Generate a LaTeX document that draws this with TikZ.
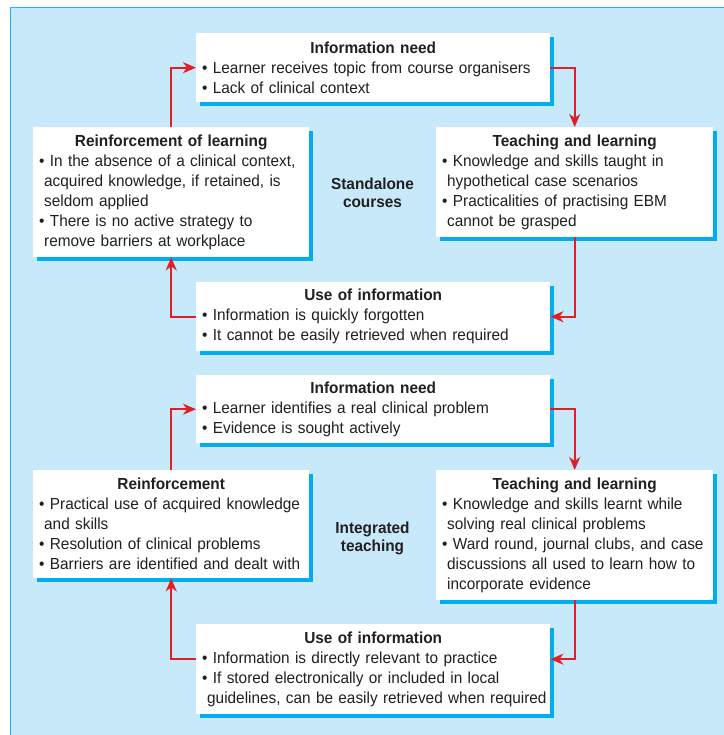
\documentclass[tikz,border=0pt]{standalone}
\usepackage{fontspec}
\setmainfont{Liberation Sans}[FakeStretch=0.96]
\usetikzlibrary{arrows.meta,shadows}
\definecolor{panelblue}{HTML}{C7E9F9}
\definecolor{panelline}{HTML}{1FB5EC}
\definecolor{shadowcyan}{HTML}{00AEEF}
\definecolor{arrowred}{HTML}{E31E26}
\definecolor{ink}{HTML}{231F20}
\newcommand\boxtitle[1]{\makebox[\hsize][c]{\bfseries #1}}
\newcommand\contline{\hspace*{5pt}}
\begin{document}
\begin{tikzpicture}[x=1pt,y=-1pt,
  infobox/.style={fill=white, anchor=north west, align=left, inner xsep=6pt, inner ysep=0pt,
    font=\fontsize{16}{20}\selectfont, text=ink,
    drop shadow={shadow xshift=4pt, shadow yshift=-4pt, fill=shadowcyan, opacity=1}},
  sidelabel/.style={align=center, font=\fontsize{16}{18}\selectfont\bfseries, text=ink},
  arr/.style={draw=arrowred, line width=1.8pt, -{Stealth[length=13pt,width=11pt,inset=4pt]}}]
\useasboundingbox (0,0) rectangle (723,735);
\fill[panelblue] (10,8) rectangle (740,750);
\draw[panelline, line width=1pt] (10,750) -- (10,8) -- (740,8);

% Standalone courses
\node[infobox, minimum width=354pt, minimum height=69pt, text width=342pt] (n1) at (196,33)
  {\boxtitle{Information need}\\
   • Learner receives topic from course organisers\\
   • Lack of clinical context};
\node[infobox, minimum width=276pt, minimum height=130pt, text width=264pt] (n2) at (33,127)
  {\boxtitle{Reinforcement of learning}\\
   • In the absence of a clinical context,\\
   \contline acquired knowledge, if retained, is\\
   \contline seldom applied\\
   • There is no active strategy to\\
   \contline remove barriers at workplace};
\node[infobox, minimum width=277pt, minimum height=110pt, text width=265pt] (n3) at (436,127)
  {\boxtitle{Teaching and learning}\\
   • Knowledge and skills taught in\\
   \contline hypothetical case scenarios\\
   • Practicalities of practising EBM\\
   \contline cannot be grasped};
\node[infobox, minimum width=354pt, minimum height=69pt, text width=342pt] (n4) at (196,282)
  {\boxtitle{Use of information}\\
   • Information is quickly forgotten\\
   • It cannot be easily retrieved when required};
\node[sidelabel] (lab1) at (372.5,193) {Standalone\\courses};

% Integrated teaching
\node[infobox, minimum width=354pt, minimum height=68pt, text width=342pt] (n5) at (196,375)
  {\boxtitle{Information need}\\
   • Learner identifies a real clinical problem\\
   • Evidence is sought actively};
\node[infobox, minimum width=276pt, minimum height=108pt, text width=264pt] (n6) at (33,470)
  {\boxtitle{Reinforcement}\\
   • Practical use of acquired knowledge\\
   \contline and skills\\
   • Resolution of clinical problems\\
   • Barriers are identified and dealt with};
\node[infobox, minimum width=277pt, minimum height=130pt, text width=265pt] (n7) at (436,470)
  {\boxtitle{Teaching and learning}\\
   • Knowledge and skills learnt while\\
   \contline solving real clinical problems\\
   • Ward round, journal clubs, and case\\
   \contline discussions all used to learn how to\\
   \contline incorporate evidence};
\node[infobox, minimum width=354pt, minimum height=90pt, text width=342pt] (n8) at (196,624)
  {\boxtitle{Use of information}\\
   • Information is directly relevant to practice\\
   • If stored electronically or included in local\\
   \contline\mbox{guidelines, can be easily retrieved when required}};
\node[sidelabel] (lab2) at (372.5,538) {Integrated\\teaching};

% connectors
\draw[arr] (n1.east) -| (n3.north);
\draw[arr] (n3.south) |- (n4.east);
\draw[arr] (n4.west) -| (n2.south);
\draw[arr] (n2.north) |- (n1.west);

\draw[arr] (n5.east) -| (n7.north);
\draw[arr] (n7.south) |- ([yshift=10pt]n8.east);
\draw[arr] ([yshift=10pt]n8.west) -| (n6.south);
\draw[arr] (n6.north) |- (n5.west);
\end{tikzpicture}
\end{document}
